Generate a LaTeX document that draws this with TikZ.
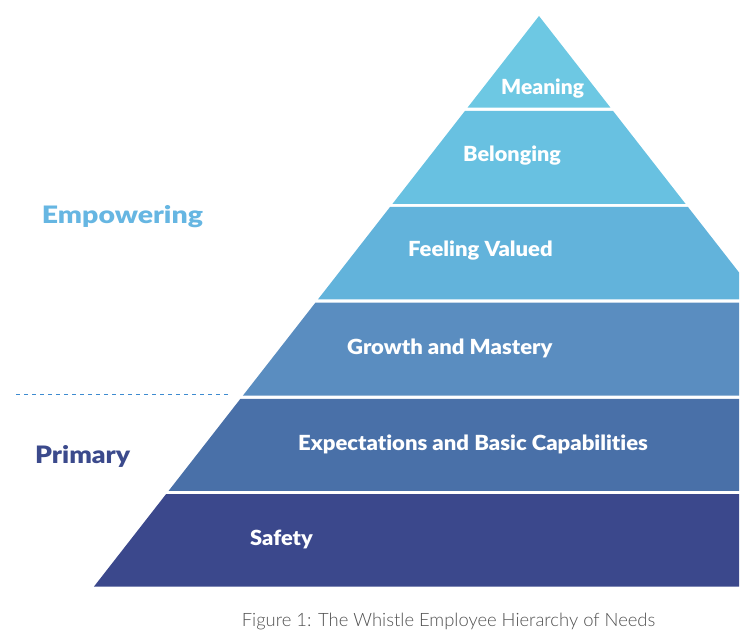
\documentclass[tikz,border=0pt]{standalone}
\usepackage{fontspec}
\setmainfont{Lato}[RawFeature=-liga]
\newfontfamily\heavyfont{Lato Black}[RawFeature=-liga]
\newfontfamily\lightfont{Lato Light}
\definecolor{cMeaning}{HTML}{6DC8E3}
\definecolor{cBelong}{HTML}{68C1E1}
\definecolor{cValued}{HTML}{62B3DB}
\definecolor{cGrowth}{HTML}{5A8DC0}
\definecolor{cExpect}{HTML}{4970A8}
\definecolor{cSafety}{HTML}{3B488C}
\definecolor{cEmpower}{HTML}{66B6E2}
\definecolor{cPrimary}{HTML}{3B4A8C}
\definecolor{cDash}{HTML}{3D8BD0}
\definecolor{cCaption}{HTML}{505050}
\newcommand\pyrlayer[3]{\fill[#3] ({539-0.78*(#1-16)},#1) -- ({539+0.78*(#1-16)},#1) -- ({539+0.78*(#2-16)},#2) -- ({539-0.78*(#2-16)},#2) -- cycle;}
\newcommand\wide[2]{\scalebox{#1}[1]{#2}}
\tikzset{
  layerlabel/.style={anchor=base west, inner sep=0pt, text=white, font=\fontsize{20.8}{24}\heavyfont},
  sidelabel/.style={anchor=base west, inner sep=0pt, font=\fontsize{24}{28}\heavyfont},
  captionlabel/.style={anchor=base west, inner sep=0pt, text=cCaption, font=\fontsize{18.4}{22}\lightfont},
}
\begin{document}
\begin{tikzpicture}[x=1pt,y=-1pt]
\useasboundingbox (0,0) rectangle (755,644);
\begin{scope}
\clip (0,0) rectangle (739,644);
\pyrlayer{16}{107.6}{cMeaning}
\pyrlayer{110.8}{203.9}{cBelong}
\pyrlayer{207}{299.5}{cValued}
\pyrlayer{302.7}{395.6}{cGrowth}
\pyrlayer{398.9}{490.8}{cExpect}
\pyrlayer{494}{586.7}{cSafety}
\end{scope}
\node[layerlabel] (meaning) at (501,94.3) {\wide{1.01}{Meaning}};
\node[layerlabel] (belonging) at (463,161.7) {\wide{1.04}{Belonging}};
\node[layerlabel] (valued) at (408,256.7) {\wide{1.06}{Feeling Valued}};
\node[layerlabel] (growth) at (347,355) {\wide{1.06}{Growth and Mastery}};
\node[layerlabel] (expect) at (298,450) {\wide{1.06}{Expectations and Basic Capabilities}};
\node[layerlabel] (safety) at (250,545) {\wide{1.05}{Safety}};
\node[sidelabel, text=cEmpower] (empower) at (41.7,223.3) {\wide{1.185}{Empowering}};
\node[sidelabel, text=cPrimary] (primary) at (35,463.3) {\wide{1.11}{Primary}};
\coordinate (dl) at (16,394.3);
\coordinate (dr) at (230,394.3);
\draw[cDash, line width=1.2pt, dash pattern=on 4pt off 4pt] (dl) -- (dr);
\node[captionlabel] (caption) at (241.7,626) {Figure 1: The Whistle Employee Hierarchy of Needs};
\end{tikzpicture}
\end{document}
